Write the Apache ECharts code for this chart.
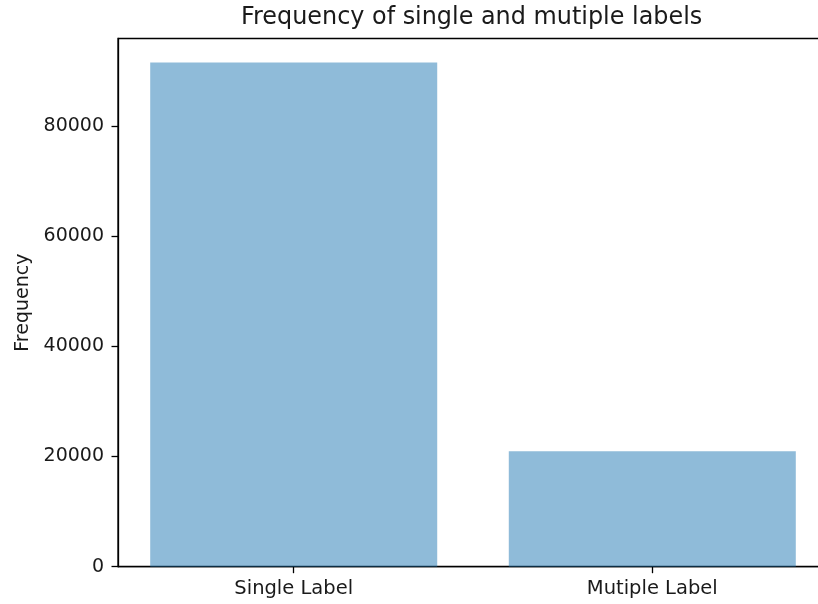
<!DOCTYPE html>
<html>
<head>
<meta charset="utf-8">
<script src="https://cdn.jsdelivr.net/npm/echarts@6/dist/echarts.min.js"></script>
<style>html,body{margin:0;padding:0;background:#fff;}#c{width:818px;height:604px;}</style>
</head>
<body>
<div id="c"></div>
<script>
const categories = ['Single Label', 'Mutiple Label'];
const frequencies = [91550, 20950];
const yTicks = [0, 20000, 40000, 60000, 80000];
const yMax = 95900;
const titleText = 'Frequency of single and mutiple labels';
const yName = 'Frequency';

const chart = echarts.init(document.getElementById('c'));
const font = 'DejaVu Sans';
const positions = categories.map((_, i) => i);
chart.setOption({
  animation: false,
  backgroundColor: '#fff',
  title: {
    text: titleText,
    left: 241,
    top: 0,
    padding: [6, 0],
    textStyle: { fontFamily: font, fontSize: 23.9, fontWeight: 'normal', color: '#1a1a1a' }
  },
  grid: {
    left: 118, top: 38.5, width: 710, bottom: 37.3,
    show: true, borderColor: '#000', borderWidth: 1.3,
    containLabel: false, outerBoundsMode: 'none'
  },
  xAxis: {
    type: 'value',
    min: -0.49, max: 1.49,
    splitLine: { show: false },
    axisLine: { show: true, onZero: false, lineStyle: { color: '#000', width: 1.3 } },
    axisTick: { show: true, length: 6.5, lineStyle: { color: '#000', width: 1.3 }, customValues: positions },
    axisLabel: {
      customValues: positions,
      margin: 12,
      fontFamily: font, fontSize: 19.5, color: '#1a1a1a',
      formatter: v => categories[Math.round(v)] || ''
    }
  },
  yAxis: {
    type: 'value',
    min: 0, max: yMax,
    name: yName,
    nameLocation: 'middle',
    nameGap: 85,
    nameTextStyle: { fontFamily: font, fontSize: 19, color: '#1a1a1a' },
    splitLine: { show: false },
    axisLine: { show: true, onZero: false, lineStyle: { color: '#000', width: 1.3 } },
    axisTick: { show: true, length: 6.5, lineStyle: { color: '#000', width: 1.3 }, customValues: yTicks },
    axisLabel: {
      customValues: yTicks, margin: 14,
      fontFamily: font, fontSize: 19, color: '#1a1a1a',
      formatter: v => String(v)
    }
  },
  series: [{
    type: 'bar',
    barWidth: 287,
    data: frequencies.map((v, i) => [positions[i], v]),
    itemStyle: { color: 'rgba(31,119,180,0.5)' }
  }]
});
</script>
</body>
</html>
